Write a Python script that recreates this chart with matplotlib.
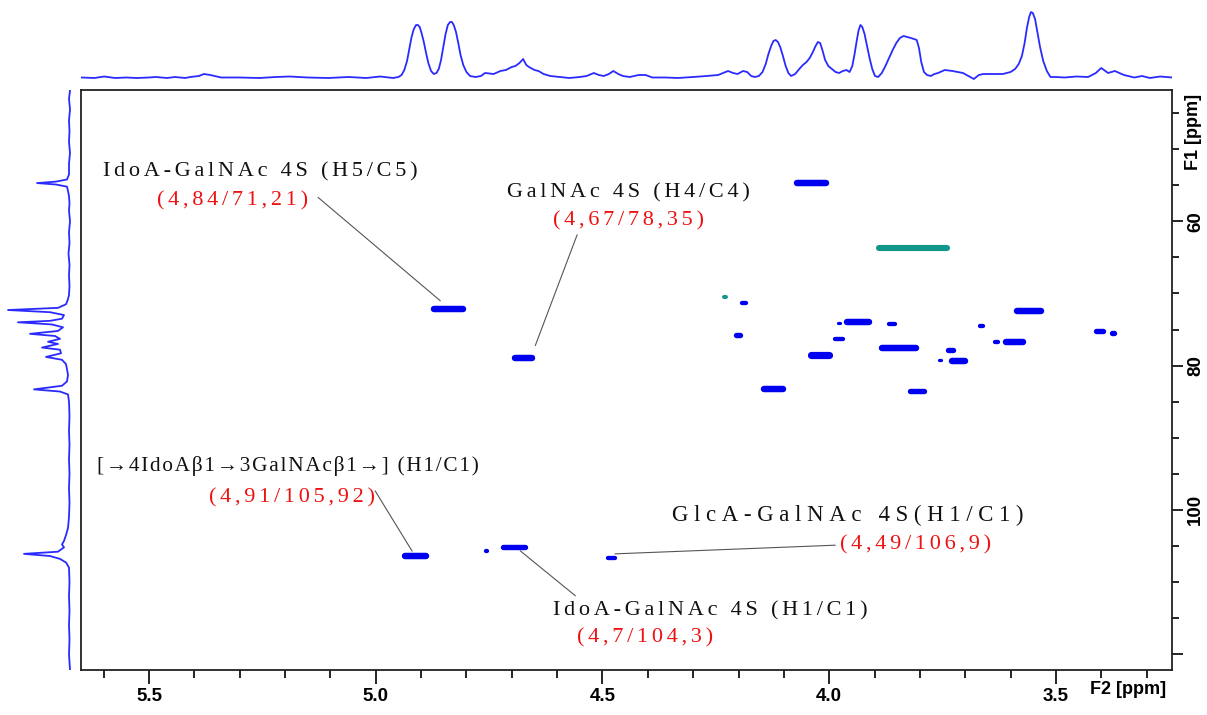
import numpy as np
import matplotlib.pyplot as plt

# 1H projection (F2 ppm, intensity)
top_ppm = [5.649, 5.62, 5.599, 5.575, 5.55, 5.527, 5.50, 5.485, 5.46, 5.443, 5.42, 5.409,
           5.39, 5.379, 5.365, 5.341, 5.30, 5.257, 5.22, 5.190, 5.15, 5.105, 5.06, 5.021,
           4.99, 4.962, 4.95, 4.943, 4.937, 4.931, 4.926, 4.921, 4.916, 4.911, 4.907, 4.903,
           4.899, 4.894, 4.889, 4.884, 4.878, 4.872, 4.866, 4.861, 4.856, 4.851, 4.846, 4.841,
           4.836, 4.832, 4.828, 4.823, 4.818, 4.813, 4.807, 4.800, 4.792, 4.78, 4.768,
           4.759, 4.74, 4.725, 4.713, 4.70, 4.692, 4.683, 4.675, 4.668, 4.662, 4.65, 4.641,
           4.63, 4.615, 4.595, 4.573, 4.55, 4.535, 4.519, 4.508, 4.497, 4.486, 4.476, 4.465,
           4.455, 4.44, 4.42, 4.405, 4.39, 4.36, 4.334, 4.30, 4.27, 4.245, 4.223, 4.212,
           4.202, 4.19, 4.181, 4.172, 4.164, 4.155, 4.147, 4.140, 4.134, 4.128, 4.123, 4.118,
           4.113, 4.108, 4.102, 4.096, 4.090, 4.084, 4.075, 4.066, 4.058, 4.050, 4.043,
           4.036, 4.030, 4.025, 4.020, 4.015, 4.009, 4.002, 3.994, 3.986, 3.978, 3.970,
           3.962, 3.955, 3.949, 3.944, 3.939, 3.935, 3.931, 3.927, 3.922, 3.917, 3.911,
           3.905, 3.899, 3.892, 3.884, 3.876, 3.868, 3.860, 3.852, 3.844, 3.836, 3.828,
           3.820, 3.813, 3.807, 3.802, 3.797, 3.791, 3.784, 3.776, 3.768, 3.760, 3.745,
           3.728, 3.705, 3.681, 3.670, 3.660, 3.640, 3.617, 3.600, 3.590, 3.582, 3.575,
           3.569, 3.564, 3.559, 3.555, 3.551, 3.546, 3.541, 3.535, 3.528, 3.520, 3.512,
           3.50, 3.481, 3.455, 3.429, 3.412, 3.400, 3.385, 3.370, 3.35, 3.327, 3.31, 3.293,
           3.27, 3.243]
top_int = [0.5, 0, 1.5, 0, 0.5, 0, 0.5, 1, 0, 1, 0, 1,
           2, 4, 3, 0.5, 0.5, 0, 1, 1.5, 0.5, 0, 1, 0,
           1.5, 0, 1, 3, 8, 17, 29, 41, 49, 53, 53, 51,
           45, 36, 25, 15, 7, 4, 5, 9, 18, 31, 44, 53,
           56, 56, 53, 46, 35, 23, 13, 6, 2, 1, 2,
           5, 4, 7, 8, 11, 12, 15, 19, 13, 11, 8, 7,
           4, 2, 1, 0, 1, 2, 5, 3, 2, 4, 7, 4,
           2, 1, 3, 3, 0.5, 0.5, 0, 1, 2, 3, 7, 5,
           4, 7, 6, 2, 1, 2, 6, 14, 24, 32, 37, 38,
           36, 31, 22, 12, 5, 2, 4, 9, 13, 16, 20,
           26, 32, 36, 35, 28, 18, 12, 9, 6, 5, 7,
           8, 6, 12, 24, 38, 48, 53, 51, 44, 33, 20,
           9, 2, 1, 5, 12, 20, 28, 35, 40, 42, 41,
           40, 39, 38, 30, 16, 6, 3, 2, 4, 5, 8,
           7, 5, -1, 3, 4, 4, 4, 6, 9, 14, 22,
           35, 50, 61, 66, 65, 59, 46, 31, 17, 7, 1,
           1, 0.5, 1.5, 1, 5, 10, 5, 7, 3, 0.5, 2, 0,
           1.5, 0.5]

# 13C projection (F1 ppm, intensity)
left_ppm = [41.9, 43, 44.5, 46, 47.5, 49, 50.5, 52, 53.5, 54.2, 54.5, 54.7, 54.9, 55.2,
            55.8, 56.5, 57.5, 58.5, 60, 61.5, 63, 64.5, 66, 67.5, 69, 70.2, 70.8, 71.5,
            72.0, 72.3, 72.6, 73.0, 73.5, 73.8, 74.0, 74.3, 74.7, 75.2, 75.6, 75.9, 76.3,
            76.7, 77.0, 77.5, 77.8, 78.3, 78.8, 79.2, 79.8, 80.5, 81.3, 82.2, 82.8, 83.3,
            83.6, 84.0, 85, 87, 89, 91, 93, 95, 97, 99, 101, 102.5, 103.5, 104.3, 104.8,
            105.2, 105.8, 106.1, 106.4, 106.8, 107.3, 108, 110, 112, 114, 116, 118, 120,
            122.2]
left_int = [0, 1, 0, 1, 0.5, 1, 0, 1, 1, 3, 14, 33, 14, 3,
            2, 1, 0.5, 1, 0, 1, 0.5, 1.5, 0.5, 1, 0.5, 1, 2, 4,
            12, 62, 20, 6, 8, 20, 52, 18, 7, 12, 40, 15, 10,
            22, 12, 28, 10, 9, 24, 8, 4, 3, 2, 3, 8, 36,
            10, 2, 1, 0.5, 1, 0.5, 1, 0.5, 1, 0.5, 1, 2, 4, 6, 8,
            6, 12, 46, 20, 10, 4, 1, 0.5, 1, 0.5, 1, 0.5, 1,
            0]

# 2D cross peaks: centre F2, centre F1, width (F2 ppm), thickness (F1 ppm)
pk_f2 = [4.039, 3.816, 4.221, 4.205, 4.188, 4.201, 3.978, 3.937, 3.861, 3.768, 3.978,
         3.846, 4.020, 3.733, 3.756, 3.715, 3.656, 4.123, 3.807, 3.613, 3.560, 3.664,
         3.644, 3.404, 3.374, 3.631, 3.591, 4.840, 4.674, 4.912, 4.756, 4.695, 4.651,
         4.521, 4.480]
pk_f1 = [54.7, 58.0, 71.1, 71.3, 71.3, 75.8, 74.1, 74.0, 74.2, 75.2, 76.3,
         77.5, 78.5, 77.8, 79.2, 79.3, 80.3, 83.2, 83.5, 72.8, 72.4, 74.5,
         74.7, 75.2, 75.5, 76.8, 76.7, 72.1, 79.0, 106.4, 105.7, 105.1, 105.3,
         106.0, 106.7]
pk_w = [0.077, 0.009, 0.007, 0.007, 0.018, 0.020, 0.013, 0.062, 0.022, 0.011, 0.026,
        0.088, 0.057, 0.022, 0.011, 0.042, 0.005, 0.055, 0.042, 0.011, 0.068, 0.015,
        0.005, 0.029, 0.018, 0.015, 0.051, 0.079, 0.051, 0.062, 0.011, 0.062, 0.007,
        0.013, 0.024]
pk_h = [0.9, 0.6, 0.45, 0.45, 0.6, 0.75, 0.45, 0.9, 0.6, 0.75, 0.6,
        0.9, 1.0, 0.75, 0.45, 0.9, 0.35, 0.9, 0.75, 0.75, 0.9, 0.6,
        0.35, 0.75, 0.75, 0.6, 0.9, 0.9, 0.9, 0.9, 0.6, 0.75, 0.6,
        0.7, 0.6]

# negative (teal) peaks
neg_f2 = [3.815, 3.868, 3.945, 4.230]
neg_f1 = [63.7, 63.5, 63.5, 70.5]
neg_w = [0.163, 0.011, 0.004, 0.013]
neg_h = [0.85, 0.6, 0.4, 0.55]

# assignments
labels = ["IdoA-GalNAc 4S (H5/C5)", "GalNAc 4S (H4/C4)",
          "[\u21924IdoA\u03b21\u21923GalNAc\u03b21\u2192] (H1/C1)",
          "GlcA-GalNAc 4S(H1/C1)", "IdoA-GalNAc 4S (H1/C1)"]
values = ["(4,84/71,21)", "(4,67/78,35)", "(4,91/105,92)", "(4,49/106,9)", "(4,7/104,3)"]

W, H = 1207, 715
fig = plt.figure(figsize=(W / 100, H / 100), dpi=100)


def box(x0, y0, x1, y1):
    return [x0 / W, 1 - y1 / H, (x1 - x0) / W, (y1 - y0) / H]


def spaced(s, n=2):
    # the labels in the original are typeset with wide letter spacing
    return ("\u200a" * n).join(s)


X_LIM = (5.65, 3.244)
Y_LIM = (122.2, 41.8)
blue = "#0000f0"
teal = "#11978a"
trace = "#2a2aff"
serif = ["Liberation Serif", "DejaVu Serif"]

ax = fig.add_axes(box(81, 90, 1172, 670))
ax.set_xlim(X_LIM)
ax.set_ylim(Y_LIM)

# pixel scale for capsule shaped peaks
sx = 1091 / (X_LIM[0] - X_LIM[1])
sy = 580 / (Y_LIM[0] - Y_LIM[1])


def draw_peaks(f2, f1, w, h, color):
    for x, y, ww, hh in zip(f2, f1, w, h):
        thick_px = hh * sy
        half = max(ww * sx - thick_px, 0) / 2 / sx
        ax.plot([x + half, x - half], [y, y], color=color, lw=thick_px * 0.72,
                solid_capstyle="round", zorder=3)


draw_peaks(pk_f2, pk_f1, pk_w, pk_h, blue)
draw_peaks(neg_f2, neg_f1, neg_w, neg_h, teal)

# ticks
ax.xaxis.set_major_locator(plt.MultipleLocator(0.5))
ax.xaxis.set_minor_locator(plt.MultipleLocator(0.1))
ax.yaxis.set_major_locator(plt.MultipleLocator(20))
ax.yaxis.set_minor_locator(plt.MultipleLocator(5))
ax.yaxis.tick_right()
ax.xaxis.set_major_formatter(plt.FormatStrFormatter("%.1f"))
ax.yaxis.set_major_formatter(plt.FuncFormatter(lambda v, p: "" if v > 110 else "%d" % v))
ax.tick_params(axis="x", which="major", length=10, width=1.2, pad=3, labelsize=13.5)
ax.tick_params(axis="x", which="minor", length=6, width=1.2)
ax.tick_params(axis="y", which="major", length=8, width=1.2, pad=3, labelsize=13.5)
ax.tick_params(axis="y", which="minor", length=5, width=1.2)
for lab in ax.get_xticklabels() + ax.get_yticklabels():
    lab.set_fontweight("bold")
    lab.set_family("Liberation Sans")
for lab in ax.get_yticklabels():
    lab.set_rotation(90)
    lab.set_va("center")
for sp in ax.spines.values():
    sp.set_linewidth(1.3)
    sp.set_color("#222222")

fig.text(1166 / W, 1 - 690 / H, "F2 [ppm]", ha="right", va="center", fontsize=13,
         fontweight="bold", family="Liberation Sans")
fig.text(1193 / W, 1 - 132 / H, "F1 [ppm]", ha="center", va="center", rotation=90,
         fontsize=13, fontweight="bold", family="Liberation Sans")

# projections
ax_top = fig.add_axes(box(81, 0, 1172, 86))
ax_top.plot(top_ppm, top_int, color=trace, lw=1.3)
ax_top.set_xlim(X_LIM)
ax_top.set_ylim(-8, 78)
ax_top.axis("off")

ax_left = fig.add_axes(box(0, 90, 78, 670))
ax_left.plot(left_int, left_ppm, color=trace, lw=1.3)
ax_left.set_xlim(70, -8)
ax_left.set_ylim(Y_LIM)
ax_left.axis("off")

# annotations
lab_pos = [(5.255, 53.2), (4.442, 56.0), (5.193, 93.9), (3.958, 100.8), (4.262, 114.0)]
val_pos = [(5.316, 57.1), (4.442, 59.9), (5.184, 98.3), (3.810, 104.9), (4.406, 117.8)]
track = [2, 2, 1, 3, 2]
lab_size = [16, 16, 15.3, 16.5, 16]
line_from = [(5.127, 56.7), (4.556, 61.9), (5.001, 97.4), (3.987, 104.9), (4.560, 111.9)]
line_to = [(4.858, 71.0), (4.648, 77.2), (4.920, 105.7), (4.472, 106.1), (4.681, 105.7)]

for i in range(len(labels)):
    ax.text(lab_pos[i][0], lab_pos[i][1], spaced(labels[i], track[i]), ha="center",
            va="center", fontsize=lab_size[i], family=serif, color="#111111")
    ax.text(val_pos[i][0], val_pos[i][1], spaced(values[i]), ha="center", va="center",
            fontsize=16, family=serif, color="#ee1111")
    ax.plot([line_from[i][0], line_to[i][0]], [line_from[i][1], line_to[i][1]],
            color="#555555", lw=0.8, zorder=2)

fig.savefig("out.png", dpi=100)
